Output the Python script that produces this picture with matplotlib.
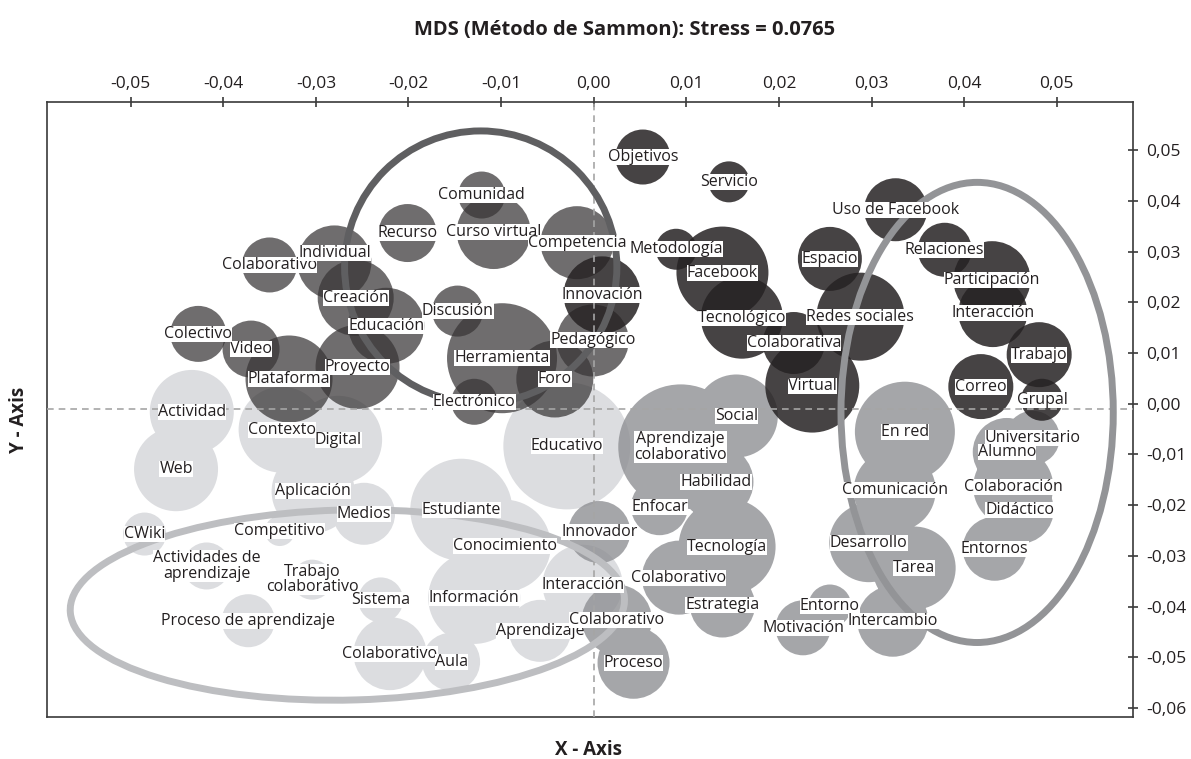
import matplotlib
matplotlib.use('Agg')
import matplotlib.pyplot as plt
from matplotlib.patches import Ellipse, PathPatch
from matplotlib.path import Path
from matplotlib.transforms import Affine2D
from matplotlib.ticker import FixedLocator, FuncFormatter

plt.rcParams['font.family'] = ['Open Sans', 'DejaVu Sans']

# ---------------- data ----------------
dark_terms = ["Objetivos", "Servicio", "Metodología", "Facebook", "Innovación", "Tecnológico",
              "Colaborativa", "Redes sociales", "Virtual", "Espacio", "Uso de Facebook",
              "Relaciones", "Participación", "Interacción", "Trabajo", "Correo", "Grupal"]
dark_x = [0.0053, 0.0146, 0.0089, 0.0139, 0.0009, 0.0160, 0.0216, 0.0288, 0.0236, 0.0255,
          0.0326, 0.0379, 0.0430, 0.0431, 0.0481, 0.0418, 0.0484]
dark_y = [0.0487, 0.0438, 0.0305, 0.0259, 0.0215, 0.0170, 0.0120, 0.0172, 0.0036, 0.0286,
          0.0383, 0.0304, 0.0245, 0.0180, 0.0097, 0.0034, 0.0008]
dark_size = [55, 41, 41, 92, 77, 82, 62, 88, 94, 64, 63, 54, 77, 69, 65, 65, 42]

mid_terms = ["Colaborativo", "Individual", "Creación", "Recurso", "Comunidad", "Curso virtual",
             "Competencia", "Discusión", "Educación", "Proyecto", "Plataforma", "Video",
             "Colectivo", "Herramienta", "Electrónico", "Foro", "Pedagógico"]
mid_x = [-0.0350, -0.0280, -0.0257, -0.0201, -0.0121, -0.0108, -0.0018, -0.0147, -0.0224,
         -0.0255, -0.0329, -0.0370, -0.0427, -0.0099, -0.0129, -0.0042, -0.0001]
mid_y = [0.0274, 0.0279, 0.0209, 0.0337, 0.0412, 0.0339, 0.0318, 0.0183, 0.0154, 0.0073,
         0.0049, 0.0108, 0.0138, 0.0090, 0.0004, 0.0049, 0.0125]
mid_size = [55, 74, 76, 58, 47, 74, 73, 51, 76, 84, 87, 57, 56, 110, 46, 77, 72]

grey_terms = ["Social", "Aprendizaje\ncolaborativo", "Habilidad", "Enfocar", "Innovador",
              "Tecnología", "Colaborativo", "Estrategia", "Colaborativo", "Proceso",
              "Motivación", "Entorno", "Intercambio", "Tarea", "Desarrollo", "Comunicación",
              "En red", "Universitario", "Alumno", "Colaboración", "Didáctico", "Entornos"]
grey_x = [0.0154, 0.0094, 0.0132, 0.0071, 0.0006, 0.0144, 0.0092, 0.0139, 0.0025, 0.0043,
          0.0226, 0.0255, 0.0323, 0.0346, 0.0297, 0.0325, 0.0336, 0.0474, 0.0446, 0.0453,
          0.0460, 0.0433]
grey_y = [-0.0024, -0.0085, -0.0154, -0.0203, -0.0253, -0.0282, -0.0343, -0.0397, -0.0426,
          -0.0511, -0.0442, -0.0399, -0.0429, -0.0324, -0.0274, -0.0171, -0.0055, -0.0067,
          -0.0095, -0.0164, -0.0209, -0.0286]
grey_size = [83, 125, 75, 57, 62, 97, 74, 65, 70, 72, 55, 43, 71, 83, 79, 82, 100, 54, 68,
             80, 68, 64]

light_terms = ["Actividad", "Web", "Contexto", "Digital", "Aplicación", "Medios", "Competitivo",
               "CWiki", "Actividades de\naprendizaje", "Trabajo\ncolaborativo",
               "Proceso de aprendizaje", "Sistema", "Colaborativo", "Aula", "Información",
               "Aprendizaje", "Interacción", "Conocimiento", "Estudiante", "Educativo"]
light_x = [-0.0434, -0.0451, -0.0337, -0.0276, -0.0303, -0.0248, -0.0339, -0.0485, -0.0418,
           -0.0304, -0.0373, -0.0230, -0.0220, -0.0154, -0.0129, -0.0058, -0.0012, -0.0096,
           -0.0143, -0.0029]
light_y = [-0.0016, -0.0129, -0.0051, -0.0071, -0.0173, -0.0217, -0.0251, -0.0257, -0.0320,
           -0.0347, -0.0428, -0.0387, -0.0493, -0.0509, -0.0383, -0.0448, -0.0357, -0.0280,
           -0.0209, -0.0083]
light_size = [84, 84, 86, 88, 83, 62, 30, 43, 47, 40, 53, 45, 73, 58, 92, 62, 80, 92, 102, 127]

x_ticks = [-0.05, -0.04, -0.03, -0.02, -0.01, 0.00, 0.01, 0.02, 0.03, 0.04, 0.05]
y_ticks = [-0.06, -0.05, -0.04, -0.03, -0.02, -0.01, 0.00, 0.01, 0.02, 0.03, 0.04, 0.05]

# cluster outlines: (centre x, centre y, width, height, angle, colour)
cluster_rings = [
    (-0.0122, 0.0270, 0.0294, 0.0537, 0, '#5f5f61'),
    (0.0414, -0.0017, 0.0294, 0.0908, 0, '#939497'),
    (-0.0266, -0.0397, 0.0599, 0.0375, 3, '#bdbec1'),
]

title = "MDS (Método de Sammon): Stress = 0.0765"

# ---------------- figure ----------------
DPI = 100
fig = plt.figure(figsize=(11.91, 7.59), dpi=DPI)
ax = fig.add_axes([0.03972, 0.05534, 0.91134, 0.80988])
ax.set_xlim(-0.0590, 0.0582)
ax.set_ylim(-0.0618, 0.0595)


def pts(size):
    return size * 72.0 / DPI   # diameter in points


# light group (opaque)
ax.scatter(light_x, light_y, s=[pts(v) ** 2 for v in light_size], color='#dcdde0',
           linewidths=0, zorder=1)

# medium grey group drawn as one union path
ppx = ax.transData.transform((1, 0))[0] - ax.transData.transform((0, 0))[0]
ppy = ax.transData.transform((0, 1))[1] - ax.transData.transform((0, 0))[1]
circles = []
for x, y, sz in zip(grey_x, grey_y, grey_size):
    r = sz / 2.0
    circles.append(Path.unit_circle().transformed(
        Affine2D().scale(r / ppx, r / ppy).translate(x, y)))
ax.add_patch(PathPatch(Path.make_compound_path(*circles), facecolor='#8f9094',
                       edgecolor='none', alpha=0.8, zorder=2))

ax.scatter(mid_x, mid_y, s=[pts(v) ** 2 for v in mid_size], color='#383536',
           alpha=0.72, linewidths=0, zorder=3)
ax.scatter(dark_x, dark_y, s=[pts(v) ** 2 for v in dark_size], color='#262223',
           alpha=0.85, linewidths=0, zorder=4)

# reference lines
ax.axvline(0, color='#a5a5a5', lw=1.2, ls=(0, (4, 3)), zorder=5)
ax.axhline(-0.001, color='#a5a5a5', lw=1.2, ls=(0, (4, 3)), zorder=5)

for cx, cy, w, h, ang, col in cluster_rings:
    ax.add_patch(Ellipse((cx, cy), w, h, angle=ang, fill=False, edgecolor=col,
                         lw=5, zorder=6))

label_offsets = {("mid", 1): (0, 7)}
groups = [("light", light_terms, light_x, light_y), ("grey", grey_terms, grey_x, grey_y),
          ("mid", mid_terms, mid_x, mid_y), ("dark", dark_terms, dark_x, dark_y)]
for gname, terms, xs, ys in groups:
    for i, (t, x, y) in enumerate(zip(terms, xs, ys)):
        dx, dy = label_offsets.get((gname, i), (0, 0))
        ax.annotate(t, (x, y), xytext=(dx, dy), textcoords='offset points',
                    ha='center', va='center', multialignment='center', fontsize=11.5,
                    color='#231f20', linespacing=0.95, zorder=10,
                    bbox=dict(boxstyle='square,pad=0', fc='white', ec='none'))

# axes styling
for sp in ax.spines.values():
    sp.set_color('#3a3a3a')
    sp.set_linewidth(1.2)
ax.xaxis.set_ticks_position('top')
ax.yaxis.set_ticks_position('right')
ax.xaxis.set_major_locator(FixedLocator(x_ticks))
ax.yaxis.set_major_locator(FixedLocator(y_ticks))
fmt = FuncFormatter(lambda v, p: ("%.2f" % v).replace('.', ',').replace('-0,00', '0,00'))
ax.xaxis.set_major_formatter(fmt)
ax.yaxis.set_major_formatter(fmt)
ax.tick_params(axis='x', direction='inout', length=7, width=1.2, color='#3a3a3a',
               labelsize=12.5, labelcolor='#231f20', pad=4)
ax.tick_params(axis='y', direction='inout', length=7, width=1.2, color='#3a3a3a',
               labelsize=12.5, labelcolor='#231f20', pad=6)

fig.text(0.5248, 0.9605, title, ha='center', va='center', fontsize=14.5, fontweight='bold',
         color='#231f20')
fig.text(0.494, 0.0119, "X - Axis", ha='center', va='center', fontsize=13.5,
         fontweight='bold', color='#231f20')
fig.text(0.016, 0.447, "Y - Axis", ha='center', va='center', rotation=90, fontsize=13.5,
         fontweight='bold', color='#231f20')

fig.savefig('out.png', dpi=DPI)
